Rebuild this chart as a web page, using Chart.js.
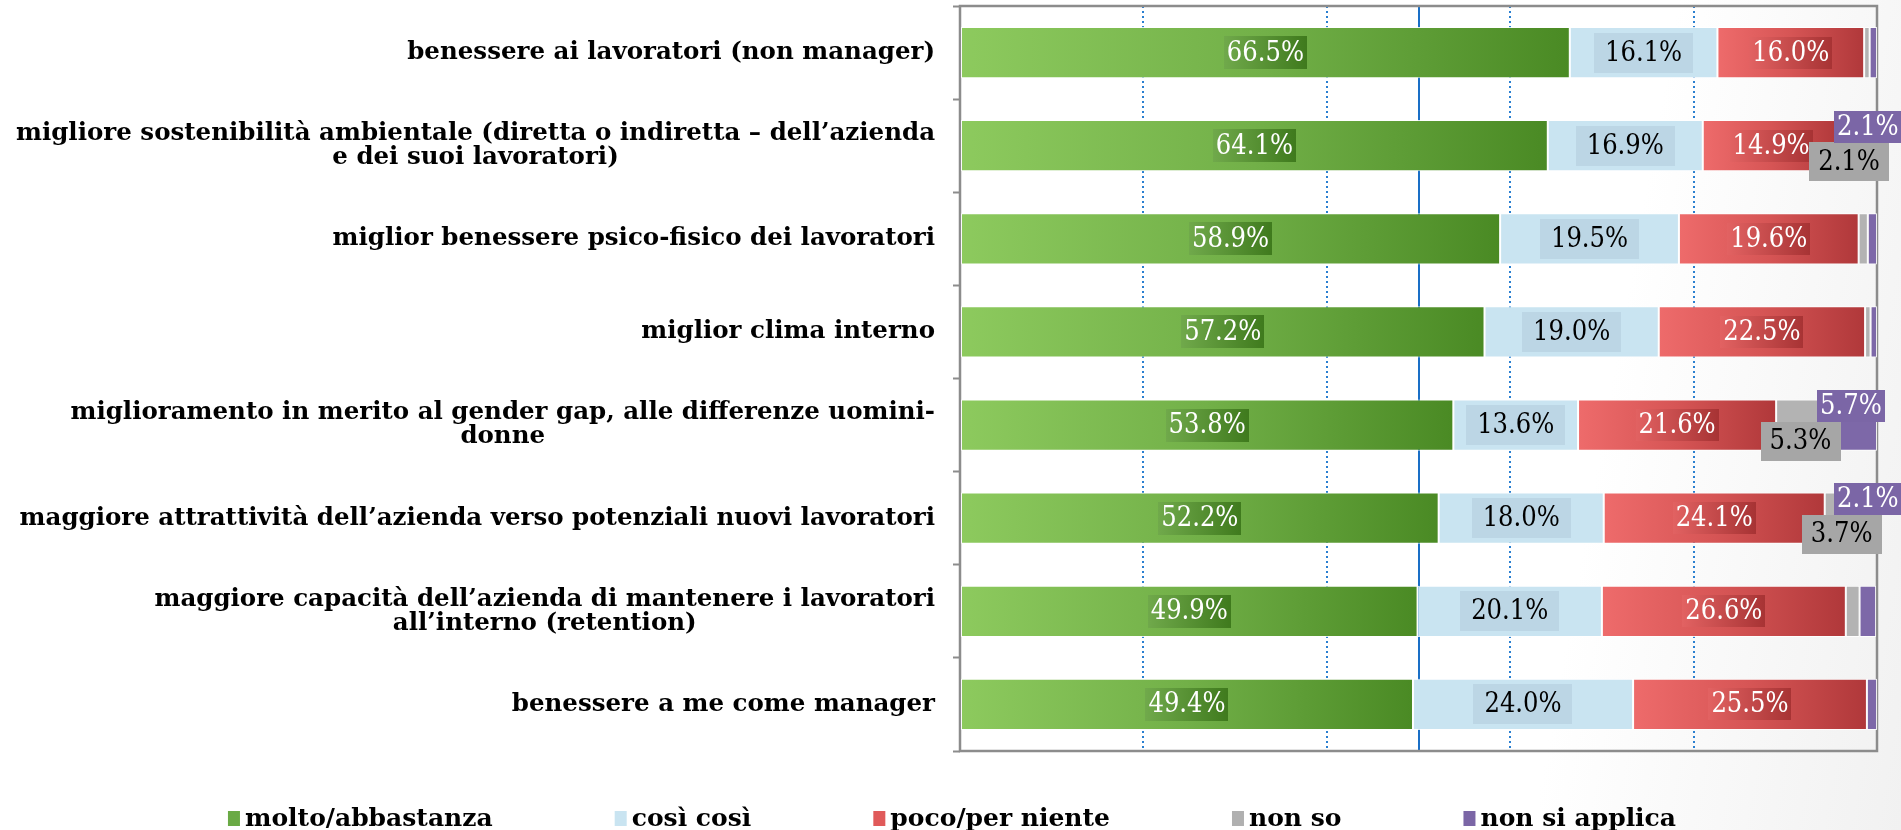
<!DOCTYPE html>
<html>
<head>
<meta charset="utf-8">
<script src="https://cdn.jsdelivr.net/npm/chart.js@4.4.1/dist/chart.umd.min.js"></script>
<style>
  html, body { margin: 0; padding: 0; background: #fff; }
  #wrap { width: 1901px; height: 830px; background: linear-gradient(100deg, #fff 82%, #f1f1f1 100%); }
</style>
</head>
<body>
<div id="wrap"><canvas id="chart" width="1901" height="830"></canvas></div>
<script>
// categories, one entry per row (multi-line labels as arrays)
const categories = [
    ["benessere ai lavoratori (non manager)"],
    ["migliore sostenibilità ambientale (diretta o indiretta – dell’azienda", "e dei suoi lavoratori)"],
    ["miglior benessere psico-fisico dei lavoratori"],
    ["miglior clima interno"],
    ["miglioramento in merito al gender gap, alle differenze uomini-", "donne"],
    ["maggiore attrattività dell’azienda verso potenziali nuovi lavoratori"],
    ["maggiore capacità dell’azienda di mantenere i lavoratori", "all’interno (retention)"],
    ["benessere a me come manager"],
];
const seriesNames = ["molto/abbastanza", "così così", "poco/per niente", "non so", "non si applica"];
const molto      = [66.5, 64.1, 58.9, 57.2, 53.8, 52.2, 49.9, 49.4];
const cosi       = [16.1, 16.9, 19.5, 19.0, 13.6, 18.0, 20.1, 24.0];
const poco       = [16.0, 14.9, 19.6, 22.5, 21.6, 24.1, 26.6, 25.5];
const nonSo      = [0.6, 2.1, 1.0, 0.6, 5.3, 3.7, 1.5, 0.0];
const nonApplica = [0.8, 2.1, 1.0, 0.7, 5.7, 2.1, 1.8, 1.1];
const xTicks = [0, 20, 40, 60, 80, 100];

const series = [molto, cosi, poco, nonSo, nonApplica];

const SERIF = '"DejaVu Serif", "Liberation Serif", serif';
const barStops = [
    ["#8dca5e", "#72b048", "#4a8a24"],
    ["#c9e4f1"],
    ["#ee6b6b", "#d65555", "#b0383a"],
    ["#b3b3b3"],
    ["#7d68a8"],
];
const legendColors = ["#6aaa45", "#c9e4f1", "#e05a5a", "#b0b0b0", "#7b66a6"];
const labelStyle = [
    {box: ["#70a94b", "#3f7a1d"], text: "#fff", padX: 3, h: 33, dy: 0},
    {box: ["#bcd6e5"], text: "#000", padX: 11, h: 40, dy: 0},
    {box: ["#e26262", "#a73334"], text: "#fff", padX: 3, h: 32, dy: 0},
    {box: ["#a6a6a6"], text: "#000", padX: 9, h: 39, dy: 16},
    {box: ["#7b66a6"], text: "#fff", padX: 3, h: 32, dy: -19},
];

function gradientFill(stops) {
    return (ctx) => {
        const chart = ctx.chart;
        const x = chart.scales.x;
        if (stops.length === 1 || ctx.type !== "data" || !x || !chart.chartArea) {
            return stops[stops.length - 1];
        }
        const i = ctx.dataIndex, d = ctx.datasetIndex;
        let start = 0;
        for (let k = 0; k < d; k++) start += series[k][i];
        const x0 = x.getPixelForValue(start);
        const x1 = x.getPixelForValue(start + series[d][i]);
        const g = chart.ctx.createLinearGradient(x0, 0, Math.max(x1, x0 + 1), 0);
        stops.forEach((c, j) => g.addColorStop(j / (stops.length - 1), c));
        return g;
    };
}

// pick the value-label font: condensed serif if it exists, else plain
function valueFont(ctx) {
    ctx.font = '27px "DejaVu Serif Condensed", "DejaVu Serif", serif';
    if (ctx.measureText("66.5%").width <= 82) return ctx.font;
    return "25px " + SERIF;
}

// frame + 50% line, behind the bars
const framePlugin = {
    id: "frame",
    beforeDatasetsDraw(chart) {
        const {ctx, chartArea: a, scales: {x}} = chart;
        ctx.save();
        ctx.strokeStyle = "#1a6fc6";
        ctx.lineWidth = 2;
        ctx.beginPath();
        const mid = Math.round(x.getPixelForValue(50));
        ctx.moveTo(mid, a.top);
        ctx.lineTo(mid, a.bottom);
        ctx.stroke();
        ctx.strokeStyle = "#8c8c8c";
        ctx.lineWidth = 2.5;
        ctx.strokeRect(a.left, a.top, a.right - a.left, a.bottom - a.top);
        ctx.restore();
    },
};

// category labels on the left
const yLabelPlugin = {
    id: "ylabels",
    afterDraw(chart) {
        const {ctx, chartArea: a, scales: {y}} = chart;
        ctx.save();
        ctx.font = "bold 24.5px " + SERIF;
        ctx.fillStyle = "#000";
        ctx.textAlign = "center";
        ctx.textBaseline = "middle";
        const lineH = 24;
        const right = a.left - 25;
        categories.forEach((lines, i) => {
            const cy = y.getPixelForValue(i);
            const w = Math.max(...lines.map((l) => ctx.measureText(l).width));
            const cx = right - w / 2;
            lines.forEach((l, j) => {
                ctx.fillText(l, cx, cy + (j - (lines.length - 1) / 2) * lineH);
            });
        });
        ctx.restore();
    },
};

// value labels with boxes
const valuePlugin = {
    id: "values",
    afterDatasetsDraw(chart) {
        const ctx = chart.ctx;
        ctx.save();
        ctx.font = valueFont(ctx);
        ctx.textAlign = "center";
        ctx.textBaseline = "middle";
        series.forEach((vals, d) => {
            const meta = chart.getDatasetMeta(d);
            const st = labelStyle[d];
            meta.data.forEach((bar, i) => {
                const v = vals[i];
                if (v < 2) return;
                const {x, y, base} = bar.getProps(["x", "y", "base"], true);
                const tx = (Math.min(x, chart.chartArea.right) + base) / 2;
                const ty = y + st.dy;
                const txt = v.toFixed(1) + "%";
                const w = ctx.measureText(txt).width + st.padX * 2;
                let fill = st.box[0];
                if (st.box.length > 1) {
                    fill = ctx.createLinearGradient(tx - w / 2, 0, tx + w / 2, 0);
                    fill.addColorStop(0, st.box[0]);
                    fill.addColorStop(1, st.box[1]);
                }
                ctx.fillStyle = fill;
                ctx.fillRect(Math.round(tx - w / 2), Math.round(ty - st.h / 2), Math.round(w), st.h);
                ctx.fillStyle = st.text;
                ctx.fillText(txt, tx, ty + 1);
            });
        });
        ctx.restore();
    },
};

// legend along the bottom
const legendPlugin = {
    id: "legendRow",
    afterDraw(chart) {
        const ctx = chart.ctx;
        ctx.save();
        ctx.font = "bold 25px " + SERIF;
        ctx.textBaseline = "alphabetic";
        const box = 12, gapTxt = 5, gapItem = 122;
        const widths = seriesNames.map((n) => box + gapTxt + ctx.measureText(n).width);
        const total = widths.reduce((s, w) => s + w, 0) + gapItem * (widths.length - 1);
        let x = 952 - total / 2;
        const base = 826;
        seriesNames.forEach((n, i) => {
            ctx.fillStyle = legendColors[i];
            ctx.fillRect(x, base - 15, box, 15);
            ctx.fillStyle = "#000";
            ctx.fillText(n, x + box + gapTxt, base);
            x += widths[i] + gapItem;
        });
        ctx.restore();
    },
};

const datasets = series.map((vals, d) => ({
    label: seriesNames[d],
    data: vals,
    backgroundColor: gradientFill(barStops[d]),
    borderColor: "rgba(255,255,255,0.85)",
    borderWidth: 1,
    borderSkipped: false,
    barPercentage: 0.55,
    categoryPercentage: 1.0,
}));

new Chart(document.getElementById("chart"), {
    type: "bar",
    data: {labels: categories, datasets},
    options: {
        indexAxis: "y",
        responsive: false,
        animation: false,
        devicePixelRatio: 1,
        layout: {padding: {top: 6, right: 24, bottom: 79, left: 0}},
        plugins: {legend: {display: false}, tooltip: {enabled: false}},
        scales: {
            x: {
                stacked: true,
                min: 0,
                max: 100,
                afterBuildTicks: (s) => { s.ticks = xTicks.map((v) => ({value: v})); },
                ticks: {display: false},
                grid: {
                    drawTicks: false,
                    lineWidth: 2,
                    color: (c) => (c.tick && (c.tick.value === 0 || c.tick.value === 100)) ? "rgba(0,0,0,0)" : "#2a7fd0",
                },
                border: {display: false, dash: [2, 3]},
            },
            y: {
                stacked: true,
                ticks: {display: false},
                afterFit: (s) => { s.width = 960; },
                grid: {
                    drawOnChartArea: false,
                    drawTicks: true,
                    tickLength: 7,
                    tickColor: "#8c8c8c",
                    tickWidth: 2,
                },
                border: {display: false},
            },
        },
    },
    plugins: [framePlugin, valuePlugin, yLabelPlugin, legendPlugin],
});
</script>
</body>
</html>
